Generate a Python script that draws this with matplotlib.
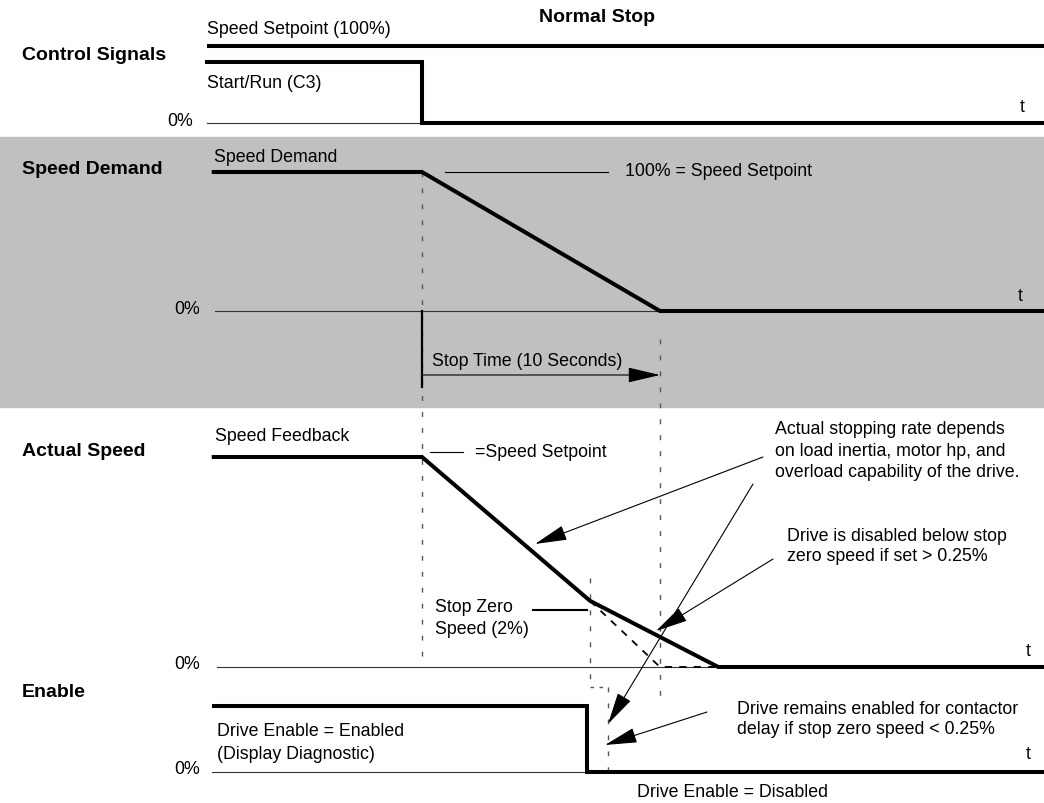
import matplotlib
matplotlib.use("Agg")
import matplotlib.pyplot as plt
from matplotlib.patches import FancyArrowPatch
from matplotlib import font_manager

# ---------------- data (time in seconds, stop command at t = 0) ----------------
stop_time = 10.0                     # Stop Time (10 Seconds)
t_start = -8.75                      # left end of the traces
t_end = 26.2                         # right end of the traces

setpoint_t = [-9.05, t_end]
setpoint_pct = [100, 100]

run_t = [-9.05, 0.0, 0.0, t_end]
run_pct = [100, 100, 0, 0]

demand_t = [t_start, 0.0, stop_time, t_end]
demand_pct = [100, 100, 0, 0]

feedback_t = [t_start, 0.0, 7.06, 12.45, t_end]
feedback_pct = [100, 100, 31.5, 0, 0]
ideal_t = [7.06, 10.0, 12.45]        # dashed: ramp without stop-zero-speed knee
ideal_pct = [31.5, 0, 0]

enable_t = [t_start, 6.93, 6.93, t_end]
enable_pct = [100, 100, 0, 0]
contactor_delay_t = [7.06, 7.80]     # dashed contactor delay step

# ---------------- layout ----------------
W, H = 1044, 804
PX0, PXS = 422.0, 23.8               # pixel of t=0, pixels per second


def px(x):
    return (x - PX0) / PXS


def row(base, top):
    return lambda p: [base - (base - top) * v / 100.0 for v in p]


ctrl_y = row(124, 63)
set_y = row(47 + 10000, 47)          # setpoint trace level only
dem_y = row(312, 173)
act_y = row(668, 458)
en_y = row(773, 707)

names = [f.name for f in font_manager.fontManager.ttflist]
narrow = "Liberation Sans Narrow" if "Liberation Sans Narrow" in names else "Liberation Sans"
plt.rcParams["font.family"] = [narrow, "DejaVu Sans"]

fig = plt.figure(figsize=(W / 100, H / 100), dpi=100)
ax = fig.add_axes([0, 0, 1, 1])
ax.set_xlim(px(0), px(W))
ax.set_ylim(H, 0)
ax.axis("off")

ax.axhspan(138, 408, color="#c0c0c0", zorder=0)

THICK = 2.9
THIN = 0.8
FS = 12.8
FSB = 14.0

# thin 0% baselines
for y, x0 in [(124, 207), (312, 215), (668, 217), (773, 212)]:
    ax.plot([px(x0), px(W)], [y, y], color="#333333", lw=THIN, zorder=1)

# dashed guide lines
gd = dict(color="#555555", lw=1.0, dashes=(3.5, 8), zorder=1)
ax.plot([0, 0], [173, 668], **gd)
ax.plot([stop_time, stop_time], [340, 705], **gd)
ax.plot([contactor_delay_t[0]] * 2, [579, 688], **gd)
ax.plot(contactor_delay_t, [688, 688], color="#555555", lw=1.0, dashes=(2.5, 4), zorder=1)
ax.plot([contactor_delay_t[1]] * 2, [688, 773], **gd)

# signals
ax.plot(setpoint_t, [47, 47], color="black", lw=THICK, solid_capstyle="butt", zorder=3)
ax.plot(run_t, ctrl_y(run_pct), color="black", lw=THICK, solid_joinstyle="miter", zorder=3)
ax.plot(demand_t, dem_y(demand_pct), color="black", lw=THICK, solid_joinstyle="miter", zorder=3)
ax.plot(feedback_t, act_y(feedback_pct), color="black", lw=THICK, solid_joinstyle="miter", zorder=3)
ax.plot(ideal_t, act_y(ideal_pct), color="black", lw=1.3, dashes=(4, 4), zorder=2)
ax.plot(enable_t, en_y(enable_pct), color="black", lw=THICK, solid_joinstyle="miter", zorder=3)

# stop time marker
ax.plot([0, 0], [312, 388], color="black", lw=1.6, zorder=3)

# leader lines
ax.plot([px(445), px(608)], [173, 173], color="black", lw=THIN)
ax.plot([px(430), px(463)], [453, 453], color="black", lw=THIN)
ax.plot([px(533), px(587)], [611, 611], color="black", lw=1.5)


def arrow(x0, y0, x1, y1):
    a = FancyArrowPatch((px(x0), y0), (px(x1), y1),
                        arrowstyle="-|>,head_length=1.45,head_width=0.34",
                        mutation_scale=14, lw=THIN, color="black",
                        shrinkA=0, shrinkB=0, zorder=4)
    ax.add_patch(a)


arrow(422, 376, 660, 376)
arrow(763, 458, 535, 545)
arrow(753, 485, 608, 725)
arrow(773, 560, 656, 632)
arrow(707, 713, 605, 746)


def T(x, y, s, ha="left", bold=False, size=None):
    ax.text(px(x), y, s, ha=ha, va="center",
            fontsize=size or (FSB if bold else FS),
            fontweight="bold" if bold else "normal", color="black", zorder=5)


T(597, 18, "Normal Stop", ha="center", bold=True)
T(22, 55, "Control Signals", bold=True)
T(207, 30, "Speed Setpoint (100%)")
T(207, 83, "Start/Run (C3)")
T(193, 122, "0%", ha="right")
T(1022, 107, "t", ha="center")

T(22, 169, "Speed Demand", bold=True)
T(214, 157, "Speed Demand")
T(625, 172, "100% = Speed Setpoint")
T(200, 310, "0%", ha="right")
T(1020, 297, "t", ha="center")
T(432, 362, "Stop Time (10 Seconds)")

T(22, 452, "Actual Speed", bold=True)
T(215, 437, "Speed Feedback")
T(475, 453, "=Speed Setpoint")
T(435, 608, "Stop Zero")
T(435, 630, "Speed (2%)")
T(775, 430, "Actual stopping rate depends")
T(775, 452, "on load inertia, motor hp, and")
T(775, 473, "overload capability of the drive.")
T(787, 537, "Drive is disabled below stop")
T(787, 557, "zero speed if set > 0.25%")
T(200, 665, "0%", ha="right")
T(1028, 652, "t", ha="center")

T(22, 693, "Enable", bold=True)
T(217, 732, "Drive Enable = Enabled")
T(217, 755, "(Display Diagnostic)")
T(200, 770, "0%", ha="right")
T(737, 710, "Drive remains enabled for contactor")
T(737, 730, "delay if stop zero speed < 0.25%")
T(1028, 755, "t", ha="center")
T(637, 793, "Drive Enable = Disabled")

fig.savefig("out.png", dpi=100, facecolor="white")
